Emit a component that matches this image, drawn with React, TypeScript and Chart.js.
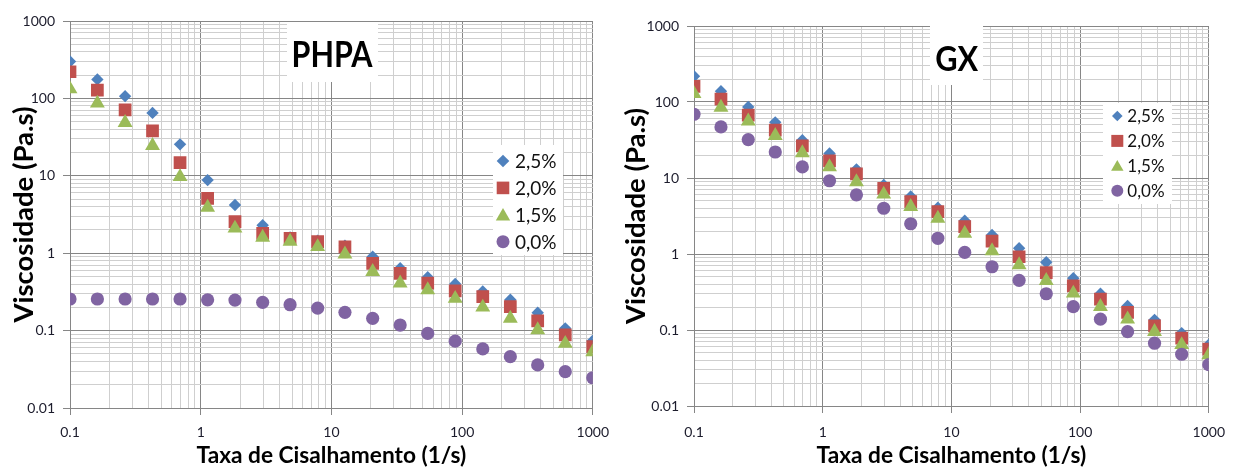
import React, { useEffect, useRef } from 'react';
import { Chart, registerables } from 'chart.js';

Chart.register(...registerables);

// ---------- data ----------
const shearRate = [0.1, 0.162, 0.264, 0.428, 0.695, 1.13, 1.83, 2.98, 4.83, 7.85, 12.7, 20.7, 33.6, 54.6, 88.6, 144, 234, 379, 616, 1000];

const seriesLabels = ['2,5%', '2,0%', '1,5%', '0,0%'];

const phpa25 = [300, 176, 107, 65, 25.5, 8.8, 4.2, 2.3, 1.6, 1.45, 1.25, 0.9, 0.64, 0.49, 0.4, 0.32, 0.25, 0.17, 0.107, 0.074];
const phpa20 = [221, 128, 71, 38, 14.8, 5.1, 2.55, 1.8, 1.56, 1.41, 1.21, 0.74, 0.55, 0.41, 0.325, 0.274, 0.204, 0.134, 0.088, 0.062];
const phpa15 = [132, 86.5, 48.5, 24.5, 9.7, 3.9, 2.1, 1.6, 1.42, 1.21, 0.97, 0.577, 0.41, 0.335, 0.26, 0.2, 0.144, 0.102, 0.068, 0.053];
const phpa00 = [0.256, 0.256, 0.256, 0.256, 0.256, 0.25, 0.248, 0.232, 0.216, 0.195, 0.172, 0.144, 0.118, 0.092, 0.073, 0.058, 0.046, 0.036, 0.0295, 0.0246];

const gx25 = [218, 139, 86, 54, 31.5, 21, 13, 8.1, 5.7, 4.06, 2.74, 1.78, 1.19, 0.78, 0.48, 0.3, 0.207, 0.136, 0.091, 0.064];
const gx20 = [161, 109, 67, 42.6, 26.5, 16.8, 11.3, 7.3, 4.9, 3.6, 2.29, 1.48, 0.92, 0.57, 0.38, 0.254, 0.17, 0.113, 0.078, 0.056];
const gx15 = [129, 85, 56, 36, 21.4, 14, 8.9, 6.1, 4.2, 2.94, 1.87, 1.1, 0.72, 0.445, 0.304, 0.203, 0.139, 0.095, 0.064, 0.047];
const gx00 = [69, 47, 32, 22, 14, 9.2, 6.0, 4.0, 2.5, 1.61, 1.05, 0.68, 0.45, 0.3, 0.203, 0.139, 0.095, 0.067, 0.048, 0.035];

const xTickValues = [0.1, 1, 10, 100, 1000];
const xTickLabels = ['0.1', '1', '10', '100', '1000'];
const yTickValues = [0.01, 0.1, 1, 10, 100, 1000];
const yTickLabels = ['0.01', '0.1', '1', '10', '100', '1000'];

const xTitle = 'Taxa de Cisalhamento (1/s)';
const yTitle = 'Viscosidade (Pa.s)';

// ---------- styles ----------
const colors = ['#4F81BD', '#C0504D', '#9BBB59', '#8064A2'];
const pointStyles = ['rectRot', 'rect', 'triangle', 'circle'];
const pointRadii = [6.2, 9, 8.6, 6.6];
const FONT = 'Lato, "Open Sans", sans-serif';
const MAJOR = '#868686';
const MINOR = '#cfcfcf';
const TICK_TEXT = '#1c1c2c';

function isMajor(v: any) {
  if (typeof v !== 'number' || v <= 0) return false;
  const l = Math.log10(v);
  return Math.abs(l - Math.round(l)) < 1e-6;
}

function gridValues(min: number, max: number) {
  const out: number[] = [];
  const e0 = Math.round(Math.log10(min));
  const e1 = Math.round(Math.log10(max));
  for (let e = e0; e < e1; e++) {
    for (let s = 1; s < 10; s++) out.push(parseFloat((s * Math.pow(10, e)).toPrecision(8)));
  }
  out.push(max);
  return out;
}

function labelFor(v: number, values: number[], labels: string[]) {
  for (let i = 0; i < values.length; i++) {
    if (Math.abs(v - values[i]) / values[i] < 1e-6) return labels[i];
  }
  return '';
}

function drawMarker(ctx: CanvasRenderingContext2D, style: string, x: number, y: number, s: number) {
  ctx.beginPath();
  if (style === 'rectRot') {
    ctx.moveTo(x, y - s);
    ctx.lineTo(x + s, y);
    ctx.lineTo(x, y + s);
    ctx.lineTo(x - s, y);
  } else if (style === 'rect') {
    ctx.rect(x - s, y - s, 2 * s, 2 * s);
  } else if (style === 'triangle') {
    const h = s * Math.sqrt(3);
    ctx.moveTo(x, y - h / 2 - 0.5);
    ctx.lineTo(x + s, y + h / 2 - 0.5);
    ctx.lineTo(x - s, y + h / 2 - 0.5);
  } else {
    ctx.arc(x, y, s, 0, Math.PI * 2);
  }
  ctx.closePath();
  ctx.fill();
}

type PanelCfg = {
  series: number[][];
  title: string;
  titleBox: { x: number; y: number; w: number; h: number };
  titleCx: number;
  titleBaseline: number;
  titleSize: number;
  titleWidth: number;
  legendBox: { x: number; y: number; w: number; h: number };
  legendY0: number;
  legendDy: number;
  legendMarkerX: number;
  legendTextX: number;
  legendFont: number;
  legendMarker: number[];
  padTop: number;
  padRight: number;
  yAxisW: number;
  xAxisH: number;
  yTitlePad: number;
  xTickPad: number;
};

function makeConfig(p: PanelCfg): any {
  const overlay = {
    id: 'overlay',
    afterDatasetsDraw(chart: any) {
      const ctx: CanvasRenderingContext2D = chart.ctx;
      ctx.save();
      // title box
      const tb = p.titleBox;
      ctx.fillStyle = '#ffffff';
      ctx.fillRect(tb.x, tb.y, tb.w, tb.h);
      ctx.font = `bold ${p.titleSize}px ${FONT}`;
      ctx.fillStyle = '#000000';
      ctx.textBaseline = 'alphabetic';
      ctx.textAlign = 'left';
      const mw = ctx.measureText(p.title).width;
      const sx = p.titleWidth / mw;
      ctx.save();
      ctx.translate(p.titleCx - p.titleWidth / 2, p.titleBaseline);
      ctx.scale(sx, 1);
      ctx.fillText(p.title, 0, 0);
      ctx.restore();
      // legend
      const lb = p.legendBox;
      ctx.fillStyle = '#ffffff';
      ctx.fillRect(lb.x, lb.y, lb.w, lb.h);
      ctx.font = `${p.legendFont}px ${FONT}`;
      ctx.textBaseline = 'middle';
      for (let i = 0; i < seriesLabels.length; i++) {
        const y = p.legendY0 + i * p.legendDy;
        ctx.fillStyle = colors[i];
        drawMarker(ctx, pointStyles[i], p.legendMarkerX, y, p.legendMarker[i]);
        ctx.fillStyle = '#111111';
        ctx.fillText(seriesLabels[i], p.legendTextX, y + 1);
      }
      ctx.restore();
    },
  };

  const gridColor = (c: any) => (c.tick && isMajor(c.tick.value) ? MAJOR : MINOR);
  const tickColor = (c: any) => (c.tick && isMajor(c.tick.value) ? MAJOR : 'rgba(0,0,0,0)');

  return {
    type: 'scatter',
    data: {
      datasets: p.series.map((ys, i) => ({
        label: seriesLabels[i],
        data: shearRate.map((x, j) => ({ x, y: ys[j] })),
        showLine: false,
        pointStyle: pointStyles[i],
        pointRadius: pointRadii[i],
        pointHoverRadius: pointRadii[i],
        backgroundColor: colors[i],
        borderColor: colors[i],
        borderWidth: 0,
        order: 4 - i,
      })),
    },
    options: {
      responsive: false,
      animation: false,
      events: [],
      layout: { padding: { top: p.padTop, right: p.padRight, left: 0, bottom: 0 } },
      plugins: {
        legend: { display: false },
        tooltip: { enabled: false },
      },
      scales: {
        x: {
          type: 'logarithmic',
          position: 'bottom',
          min: 0.1,
          max: 1000,
          afterBuildTicks: (s: any) => {
            s.ticks = gridValues(0.1, 1000).map((v) => ({ value: v, major: isMajor(v) }));
          },
          afterFit: (s: any) => {
            s.height = p.xAxisH;
          },
          grid: { color: gridColor, lineWidth: 1, drawTicks: true, tickLength: 7, tickColor },
          border: { display: true, color: MAJOR, width: 1 },
          ticks: {
            autoSkip: false,
            maxRotation: 0,
            minRotation: 0,
            padding: p.xTickPad,
            color: TICK_TEXT,
            font: { family: FONT, size: 14 },
            callback: (v: any) => labelFor(Number(v), xTickValues, xTickLabels),
          },
          title: {
            display: true,
            text: xTitle,
            color: '#000000',
            font: { family: FONT, size: 22.7, weight: 'bold' },
            padding: { top: 0, bottom: 1 },
          },
        },
        y: {
          type: 'logarithmic',
          position: 'left',
          min: 0.01,
          max: 1000,
          afterBuildTicks: (s: any) => {
            s.ticks = gridValues(0.01, 1000).map((v) => ({ value: v, major: isMajor(v) }));
          },
          afterFit: (s: any) => {
            s.width = p.yAxisW;
          },
          grid: { color: gridColor, lineWidth: 1, drawTicks: true, tickLength: 7, tickColor },
          border: { display: true, color: MAJOR, width: 1 },
          ticks: {
            autoSkip: false,
            padding: 8,
            color: TICK_TEXT,
            font: { family: FONT, size: 14 },
            callback: (v: any) => labelFor(Number(v), yTickValues, yTickLabels),
          },
          title: {
            display: true,
            text: yTitle,
            color: '#000000',
            font: { family: FONT, size: 27.5, weight: 'bold' },
            padding: { top: p.yTitlePad, bottom: 0 },
          },
        },
      },
    },
    plugins: [overlay],
  };
}

const phpaCfg: PanelCfg = {
  series: [phpa25, phpa20, phpa15, phpa00],
  title: 'PHPA',
  titleBox: { x: 287, y: 22, w: 91, h: 60 },
  titleCx: 332,
  titleBaseline: 66.5,
  titleSize: 37,
  titleWidth: 81,
  legendBox: { x: 493, y: 145, w: 70, h: 110 },
  legendY0: 161,
  legendDy: 26.9,
  legendMarkerX: 503,
  legendTextX: 515,
  legendFont: 19,
  legendMarker: [6.3, 6.3, 7.2, 6.5],
  padTop: 21,
  padRight: 23,
  yAxisW: 70,
  xAxisH: 62,
  yTitlePad: 7.5,
  xTickPad: 9,
};

const gxCfg: PanelCfg = {
  series: [gx25, gx20, gx15, gx00],
  title: 'GX',
  titleBox: { x: 312, y: 25, w: 53, h: 60 },
  titleCx: 338.7,
  titleBaseline: 71,
  titleSize: 34,
  titleWidth: 43,
  legendBox: { x: 485, y: 103, w: 69, h: 101 },
  legendY0: 116,
  legendDy: 24.9,
  legendMarkerX: 499.3,
  legendTextX: 509.3,
  legendFont: 17,
  legendMarker: [5.3, 6, 6.2, 6],
  padTop: 26,
  padRight: 19,
  yAxisW: 76,
  xAxisH: 64,
  yTitlePad: 1.5,
  xTickPad: 11,
};

function Panel({ cfg, left }: { cfg: PanelCfg; left: number }) {
  const ref = useRef<HTMLCanvasElement | null>(null);
  useEffect(() => {
    if (!ref.current) return;
    const chart = new Chart(ref.current, makeConfig(cfg));
    return () => chart.destroy();
  }, [cfg]);
  return (
    <canvas
      ref={ref}
      width={618}
      height={470}
      style={{ position: 'absolute', left, top: 0, width: 618, height: 470, display: 'block' }}
    />
  );
}

export default function App() {
  useEffect(() => {
    document.body.style.margin = '0';
    document.body.style.background = '#ffffff';
  }, []);
  return (
    <div style={{ position: 'relative', width: 1236, height: 470, background: '#ffffff', overflow: 'hidden' }}>
      <Panel cfg={phpaCfg} left={0} />
      <Panel cfg={gxCfg} left={618} />
    </div>
  );
}
